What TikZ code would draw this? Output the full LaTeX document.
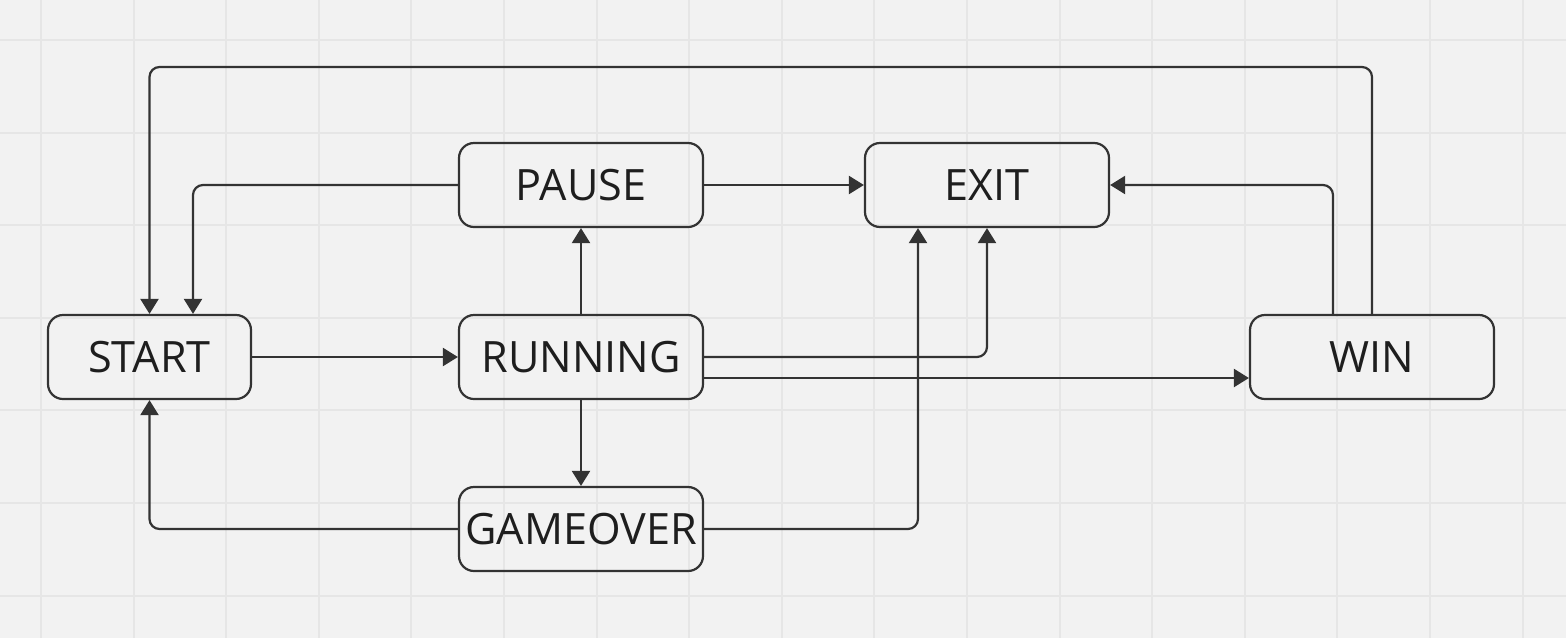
\documentclass[tikz,border=0pt]{standalone}
\usepackage{fontspec}
\setmainfont{Open Sans}
\usetikzlibrary{arrows.meta}
\definecolor{bg}{HTML}{F2F2F2}
\definecolor{gridc}{HTML}{E6E6E6}
\definecolor{linec}{HTML}{333333}
\definecolor{textc}{HTML}{1E1E1E}
\tikzset{
  state/.style={draw=linec, line width=1.1pt, rounded corners=7.5pt, minimum width=122pt,
    minimum height=42pt, inner sep=0pt, text=textc, font=\fontsize{21.6}{25}\selectfont},
  conn/.style={draw=linec, line width=1.1pt, rounded corners=5pt,
    -{Triangle[width=9pt,length=7.5pt]}}
}
\begin{document}
\begin{tikzpicture}[x=0.5pt,y=-0.5pt]
\fill[bg] (0,0) rectangle (1566,638);
\useasboundingbox (0,0) rectangle (1566,638);
\foreach \i in {0,...,16} {\draw[gridc, line width=1pt] ({41+92.6*\i},0) -- ({41+92.6*\i},638);}
\foreach \j in {0,...,6} {\draw[gridc, line width=1pt] (0,{40+92.6*\j}) -- (1566,{40+92.6*\j});}

\node[state, minimum width=101.5pt] (START) at (149.5,357) {START};
\node[state] (PAUSE) at (581,185) {PAUSE};
\node[state] (EXIT) at (987,185) {EXIT};
\node[state] (RUNNING) at (581,357) {RUNNING};
\node[state] (WIN) at (1372,357) {WIN};
\node[state] (GAMEOVER) at (581,529) {GAMEOVER};
\coordinate (topline) at (0,67);

\draw[conn] (WIN.north) -- (WIN.north |- topline) -| (START.north);
\draw[conn] (PAUSE.west) -| ([xshift=21.75pt]START.north);
\draw[conn] (PAUSE.east) -- (EXIT.west);
\draw[conn] ([xshift=-19.5pt]WIN.north) |- (EXIT.east);
\draw[conn] (RUNNING.north) -- (PAUSE.south);
\draw[conn] (START.east) -- (RUNNING.west);
\draw[conn] (RUNNING.east) -| (EXIT.south);
\draw[conn] ([yshift=-10.5pt]RUNNING.east) -- ([yshift=-10.5pt]WIN.west);
\draw[conn] (RUNNING.south) -- (GAMEOVER.north);
\draw[conn] (GAMEOVER.west) -| (START.south);
\draw[conn] (GAMEOVER.east) -| ([xshift=-34.5pt]EXIT.south);
\end{tikzpicture}
\end{document}
